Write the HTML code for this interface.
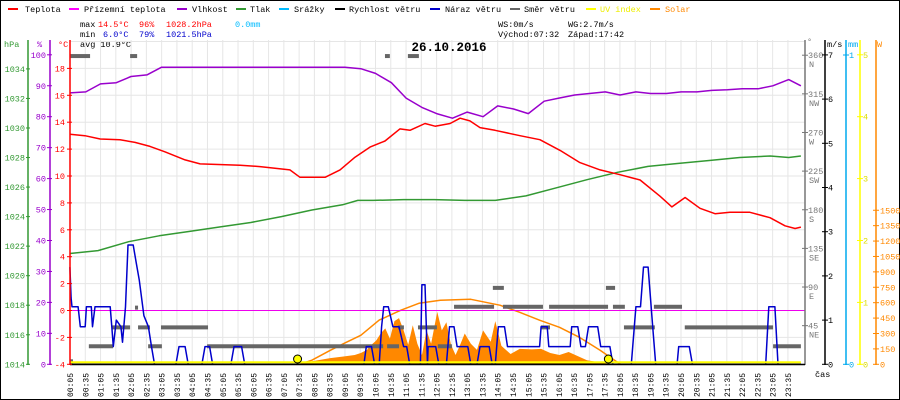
<!DOCTYPE html>
<html><head><meta charset="utf-8"><style>
html,body{margin:0;padding:0;background:#fff;}
svg{display:block;font-family:"Liberation Mono",monospace;font-size:8.5px;}
</style></head>
<body>
<svg id="chart" width="900" height="400" viewBox="0 0 900 400" xmlns="http://www.w3.org/2000/svg">
<rect x="0.5" y="0.5" width="899" height="399" fill="#fff" stroke="#000"/>
<g>
<rect x="8" y="8" width="10" height="2" fill="#f00"/><text x="25" y="12">Teplota</text>
<rect x="69" y="8" width="10" height="2" fill="#f0f"/><text x="84" y="12">Přízemní teplota</text>
<rect x="177" y="8" width="10" height="2" fill="#90c"/><text x="192" y="12">Vlhkost</text>
<rect x="236" y="8" width="10" height="2" fill="#393"/><text x="250" y="12">Tlak</text>
<rect x="279" y="8" width="10" height="2" fill="#0bf"/><text x="294" y="12">Srážky</text>
<rect x="335" y="8" width="10" height="2" fill="#000"/><text x="349" y="12">Rychlost větru</text>
<rect x="430" y="8" width="10" height="2" fill="#00c"/><text x="445" y="12">Náraz větru</text>
<rect x="510" y="8" width="10" height="2" fill="#666"/><text x="524" y="12">Směr větru</text>
<rect x="586" y="8" width="10" height="2" fill="#ff0"/><text x="600" y="12" fill="#ee0">UV index</text>
<rect x="650" y="8" width="10" height="2" fill="#f80"/><text x="665" y="12" fill="#f80">Solar</text>
</g>
<g>
<text x="80" y="27">max</text>
<text x="98" y="27" fill="#f00">14.5°C</text>
<text x="139" y="27" fill="#f00">96%</text>
<text x="166" y="27" fill="#f00">1028.2hPa</text>
<text x="235" y="27" fill="#0bf">0.0mm</text>
<text x="80" y="37">min</text>
<text x="103" y="37" fill="#00c">6.0°C</text>
<text x="139" y="37" fill="#00c">79%</text>
<text x="166" y="37" fill="#00c">1021.5hPa</text>
<text x="80" y="47">avg 10.9°C</text>
<text x="498" y="27">WS:0m/s</text>
<text x="568" y="27">WG:2.7m/s</text>
<text x="498" y="37">Východ:07:32</text>
<text x="568" y="37">Západ:17:42</text>
</g>
<g id="grid"></g>
<text x="449" y="51" text-anchor="middle" font-weight="bold" font-size="12.5">26.10.2016</text>
<g id="marks"></g>
<g id="axes"></g>
</svg>
<script>
// ---- data ----
const tempTimes=[0.08,0.57,1.07,1.72,2.21,2.7,3.19,3.85,4.34,5.65,6.3,7.28,7.61,8.43,8.92,9.41,9.9,10.39,10.88,11.21,11.7,12.03,12.52,12.85,13.17,13.5,13.99,14.81,15.46,16.12,16.77,17.43,18.08,18.74,19.39,19.78,20.21,20.7,21.19,21.68,22.33,22.99,23.48,23.81,24.0];
const tempVals=[13.1,13.0,12.75,12.7,12.5,12.2,11.8,11.2,10.9,10.8,10.7,10.45,9.9,9.9,10.45,11.4,12.15,12.6,13.5,13.4,13.9,13.7,13.9,14.3,14.1,13.6,13.4,13.0,12.7,11.9,11.0,10.45,10.1,9.7,8.5,7.7,8.4,7.6,7.2,7.3,7.3,6.9,6.3,6.1,6.2];
const humTimes=[0.08,0.6,1.08,1.6,2.08,2.6,3.08,4.08,5.08,6.08,7.08,8.08,9.08,9.6,10.08,10.6,11.08,11.6,12.08,12.6,13.08,13.6,14.08,14.6,15.08,15.6,16.08,16.6,17.08,17.6,18.08,18.6,19.08,19.6,20.08,20.6,21.08,21.6,22.08,22.6,23.08,23.6,24.0];
const humVals=[87.7,88,90.6,91,93,93.5,96,96,96,96,96,96,96,95.5,94,91,86,83,81,79.5,81.5,80,83.5,82.5,81,85,86,87,87.5,88,87,88,87.5,87.5,88,88,88.5,88.7,89,89,90,92,90];
const pressTimes=[0.08,1,2,3,4,5,6,7,8,9,9.5,10,11,12,13,14,15,16,17,18,19,20,21,22,23,23.6,24];
const pressVals=[1021.5,1021.7,1022.3,1022.7,1023.0,1023.3,1023.6,1024.0,1024.45,1024.8,1025.1,1025.1,1025.15,1025.15,1025.1,1025.1,1025.4,1025.95,1026.5,1027.0,1027.4,1027.6,1027.8,1028.0,1028.1,1028.0,1028.1];
const gustTimes=[0.08,0.12,0.15,0.35,0.42,0.58,0.62,0.78,0.82,0.9,1.4,1.45,1.5,1.6,1.75,1.8,1.9,1.98,2.15,2.25,2.35,2.5,2.65,2.75,2.85,3.55,3.65,3.85,3.95,4.4,4.5,4.65,4.75,5.35,5.45,5.7,5.8,9.7,9.78,9.95,10.05,10.2,10.28,10.35,10.5,10.65,10.85,11.0,11.1,11.2,11.55,11.6,11.7,11.78,11.8,12.05,12.15,12.4,12.5,12.65,12.75,13.1,13.2,13.4,13.5,13.8,13.9,14.0,14.1,14.3,14.4,15.45,15.5,15.7,15.75,16.45,16.5,16.7,16.8,16.95,17.05,17.35,17.45,17.75,17.85,18.45,18.6,18.75,18.85,19.0,19.15,19.25,19.95,20.0,20.35,20.45,22.85,22.95,23.15,23.25,24];
const gustVals=[2.2,1.5,1.3,1.3,0.85,0.85,1.3,1.3,0.85,1.3,1.3,0.85,0.4,1.0,0.85,0.5,1.3,2.7,2.7,2.3,1.9,1.1,0.85,0.4,0,0,0.4,0.4,0,0,0.4,0.4,0,0,0.4,0.4,0,0,0.4,0.4,0,0,0.85,1.3,1.3,0.85,0.85,0.4,0.4,0,0,1.8,1.8,0,0.4,0.4,0,0,0.85,0.85,0.4,0.4,0,0,0.4,0.4,0,0,0.85,0.85,0.4,0.4,0.85,0.85,0.4,0.4,0.85,0.85,0.4,0.4,0.85,0.85,0.4,0.4,0,0,1.3,1.3,2.2,2.2,0.85,0,0,0.4,0.4,0,0,1.3,1.3,0,0];
const dirStarts=[0.08,2.05,10.39,11.14,13.92,17.62,12.65,14.25,15.76,17.85,19.19,1.46,2.31,3.06,10.82,11.47,15.49,18.21,20.2,0.7,2.64,4.57,10.46,12.12,23.09,0.08,2.21];
const dirEnds=[0.74,2.28,10.55,11.5,14.28,17.92,13.96,15.56,17.69,18.24,20.11,2.05,2.7,4.6,11.01,12.09,15.79,19.22,23.09,1.49,3.09,10.33,10.85,12.58,24.0,0.18,2.31];
const dirDeg=[359,359,359,359,89,89,67,67,67,67,67,43,43,43,43,43,43,43,43,21,21,21,21,21,21,3.5,66];
const solarTimes=[7.6,8.0,8.6,9.0,9.4,9.6,9.8,9.95,10.1,10.25,10.4,10.55,10.7,10.85,11.0,11.15,11.3,11.45,11.6,11.75,11.9,12.1,12.25,12.4,12.55,12.7,12.85,13.0,13.2,13.4,13.6,13.85,14.0,14.2,14.5,14.8,15.2,15.5,15.8,16.1,16.4,16.7,17.0,17.4,17.8,18.0];
const solarVals=[0,30,60,75,90,110,140,190,230,300,350,250,420,450,330,190,380,200,90,330,200,510,330,410,190,90,190,300,200,140,330,220,420,180,100,150,145,150,110,90,120,80,40,20,5,0];
const theoTimes=[7.6,8.0,8.6,9.1,9.6,10.2,10.9,11.5,12.2,13.2,14.15,14.8,15.46,16.1,16.77,17.43,17.9,18.1];
const theoVals=[0,40,136,210,282,430,526,594,623,633,575,506,428,360,260,136,40,0];
const uvTimes=[0.08,24];
const uvVals=[0,0];
const windTimes=[0.08,24];
const windVals=[0,0];
const sunEvents=[7.53,17.7];
const timeLabels=["00:05","00:35","01:05","01:35","02:05","02:35","03:05","03:35","04:05","04:35","05:05","05:35","06:05","06:35","07:05","07:35","08:05","08:35","09:05","09:35","10:05","10:35","11:05","11:35","12:05","12:35","13:05","13:35","14:05","14:35","15:05","15:35","16:05","16:35","17:05","17:35","18:05","18:35","19:05","19:35","20:05","20:35","21:05","21:35","22:05","22:35","23:05","23:35"];
const tempTicks=[18,16,14,12,10,8,6,4,2,0,-2,-4];
const humTicks=[100,90,80,70,60,50,40,30,20,10,0];
const pressTicks=[1034,1032,1030,1028,1026,1024,1022,1020,1018,1016,1014];
const dirTicks=[360,315,270,225,180,135,90,45];
const dirNames=["N","NW","W","SW","S","SE","E","NE"];
const msTicks=[7,6,5,4,3,2,1,0];
const uvTicks=[5,4,3,2,1,0];
const wTicks=[1500,1350,1200,1050,900,750,600,450,300,150,0];

// ---- scales ----
const X0=70,X1=803,YB=364.3;
const xT=h=>X0+(h-5/60)*30.56;
const yTemp=t=>310.5-t*13.45;
const yHum=p=>YB-p*3.095;
const yPress=p=>YB-(p-1014)*14.77;
const yMs=v=>YB-v*44.2;
const yDir=d=>YB-d*0.8586;
const yUv=v=>YB-v*61.9;
const yW=w=>YB-w*0.1027;

const NS="http://www.w3.org/2000/svg";
function mk(tag,attrs,parent){const e=document.createElementNS(NS,tag);for(const k in attrs)e.setAttribute(k,attrs[k]);parent.appendChild(e);return e;}
const grid=document.getElementById('grid'),marks=document.getElementById('marks'),axes=document.getElementById('axes');

timeLabels.forEach((lab,i)=>{
  const x=X0+i*15.275;
  const l=mk('line',{x1:x,x2:x,y1:40,y2:YB,stroke:'#e6e6e6','stroke-width':1},grid);
  
  
  const t=mk('text',{transform:`translate(${x+3},397) rotate(-90)`,'font-size':'8'},axes);
  t.textContent=lab;
  
  
});
tempTicks.forEach(v=>{
  const y=yTemp(v);
  const l=mk('line',{x1:X0,x2:805,y1:y,y2:y,stroke:'#e6e6e6','stroke-width':1},grid);
  
  
});
{const l=mk('line',{x1:X0,x2:805,y1:41.5,y2:41.5,stroke:'#e6e6e6'},grid);

}

{let d=`M${xT(solarTimes[0])},${YB}`;
solarTimes.forEach((t,i)=>{d+=` L${xT(t)},${yW(solarVals[i])}`;});
d+=` L${xT(solarTimes[solarTimes.length-1])},${YB} Z`;
const p=mk('path',{d,fill:'#ff8800',stroke:'none'},marks);

}
function line(ts,vs,fy,color,w){
  const pts=ts.map((t,i)=>`${xT(t).toFixed(1)},${fy(vs[i]).toFixed(1)}`).join(' ');
  return mk('polyline',{points:pts,fill:'none',stroke:color,'stroke-width':w,'stroke-linejoin':'round'},marks);
}
{const p=line(theoTimes,theoVals,yW,'#ff8800',1.5);

}
{const l=mk('line',{x1:X0,x2:805,y1:yTemp(0),y2:yTemp(0),stroke:'#ee00ee','stroke-width':1},marks);

}
dirStarts.forEach((s,i)=>{
  const y=yDir(dirDeg[i]);
  const r=mk('rect',{x:xT(s),y:y-2,width:Math.max(3,xT(dirEnds[i])-xT(s)),height:4,fill:'#666'},marks);
  
  
});
{const p=line(pressTimes,pressVals,yPress,'#339933',1.5);

}
{const p=line(humTimes,humVals,yHum,'#9900cc',1.5);

}
{const p=line(tempTimes,tempVals,yTemp,'#ff0000',1.5);

}
{const p=line(gustTimes,gustVals,yMs,'#0000cc',1.5);

}
{const p=line(uvTimes,uvVals,yUv,'#ffff00',2);
p.setAttribute('transform','translate(0,-2)');

}
{const p=line(windTimes,windVals,yMs,'#000',1.5);

}
sunEvents.forEach(h=>{
  const c=mk('circle',{cx:xT(h),cy:359,r:4,fill:'#ffff00',stroke:'#000','stroke-width':1},marks);
  
  
});

function axisLine(x,color,name){const l=mk('line',{x1:x,x2:x,y1:40,y2:365,stroke:color,'stroke-width':1.5},axes);

}
function tick(x1,x2,y,color){const l=mk('line',{x1,x2,y1:y,y2:y,stroke:color},axes);

}
function label(x,y,txt,color,anchor,name){const t=mk('text',{x,y,fill:color,'text-anchor':anchor},axes);t.textContent=txt;

return t;}
axisLine(28,'#339933','pressure-axis');
axisLine(50,'#9900cc','humidity-axis');
axisLine(70,'#ff0000','temperature-axis');
axisLine(805,'#777','direction-axis');
axisLine(825,'#000','wind-speed-axis');
axisLine(846,'#00aaee','rain-axis');
axisLine(860,'#ffff00','uv-axis');
axisLine(876,'#ff8800','solar-axis');
{const l=mk('line',{x1:X0,x2:805,y1:364.5,y2:364.5,stroke:'#000','stroke-width':1.5},axes);

}
pressTicks.forEach(v=>{const y=yPress(v);tick(26,30,y,'#339933');label(25,y+3,String(v),'#339933','end','pressure-tick-label');});
humTicks.forEach(v=>{const y=yHum(v);tick(47,52,y,'#9900cc');label(46,y+3,String(v),'#9900cc','end','humidity-tick-label');});
tempTicks.forEach(v=>{const y=yTemp(v);tick(67,72,y,'#ff0000');label(65,y+3,String(v),'#ff0000','end','temperature-tick-label');});
dirTicks.forEach((v,i)=>{const y=yDir(v);tick(802,808,y,'#777');label(808,y+3,String(v),'#777','start','direction-tick-label');label(809,y+12,dirNames[i],'#777','start','direction-name-label');});
msTicks.forEach(v=>{const y=yMs(v);tick(822,828,y,'#000');label(828,y+3,String(v),'#000','start','wind-speed-tick-label');});
[1,0].forEach(v=>{const y=v?55:YB;tick(843,849,y,'#00aaee');label(849,y+3,String(v),'#00aaee','start','rain-tick-label');});
uvTicks.forEach(v=>{const y=yUv(v);tick(857,863,y,'#ffff00');label(863,y+3,String(v),'#dddd00','start','uv-tick-label');});
wTicks.forEach(v=>{const y=yW(v);tick(873,879,y,'#ff8800');label(880,y+3,String(v),'#ff8800','start','solar-tick-label');});
label(4,47,'hPa','#339933','start','pressure-unit');
label(37,47,'%','#9900cc','start','humidity-unit');
label(58,47,'°C','#ff0000','start','temperature-unit');
label(807,44,'°','#777','start','direction-unit');
label(827,47,'m/s','#000','start','wind-speed-unit');
label(848,47,'mm','#00aaee','start','rain-unit');
label(877,47,'W','#ff8800','start','solar-unit');
label(815,377,'čas','#000','start','time-axis-title');
</script>
</body></html>
